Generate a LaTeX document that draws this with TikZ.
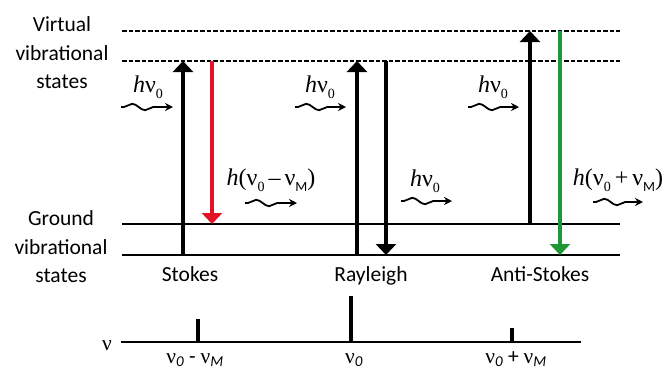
\documentclass[tikz,border=0pt]{standalone}
\usepackage{fontspec}
\setmainfont{Carlito}
\newfontfamily\serifsym{Liberation Serif}
\usetikzlibrary{arrows.meta,decorations.pathmorphing}
\definecolor{stokesred}{RGB}{228,18,38}
\definecolor{antigreen}{RGB}{30,152,52}
\newcommand{\fnu}{{\serifsym ν}}
\newcommand{\fh}{{\serifsym\itshape h}}
% low-set subscript as used in the photon energy labels
\newcommand{\lowsub}[1]{\raisebox{-6pt}{\fontsize{14}{14}\selectfont #1}}
\begin{document}
\begin{tikzpicture}[x=1pt,y=-1pt,
  font=\fontsize{21.5}{28.5}\selectfont,
  level/.style={line width=2pt},
  virtual/.style={line width=1.8pt, dash pattern=on 4.5pt off 2pt},
  trans/.style={line width=4pt, -{Triangle[width=20pt,length=11pt]}},
  photon/.style={line width=1.8pt, decorate,
    decoration={snake, amplitude=3.2pt, segment length=26pt, pre length=3pt, post length=10pt},
    -{Stealth[length=8pt,width=8pt]}},
  lbl/.style={anchor=base, inner sep=0pt},
  plbl/.style={anchor=base, inner sep=0pt, font=\fontsize{24}{28}\selectfont},
  peak/.style={line width=4.5pt}]
\useasboundingbox (0,0) rectangle (665,368);

% energy levels
\coordinate (v2L) at (122,31);  \coordinate (v2R) at (620,31);
\coordinate (v1L) at (122,61);  \coordinate (v1R) at (620,61);
\coordinate (g1L) at (122,224); \coordinate (g1R) at (620,224);
\coordinate (g0L) at (122,255); \coordinate (g0R) at (620,255);
\draw[virtual] (v2L) -- (v2R);
\draw[virtual] (v1L) -- (v1R);
\draw[level] (g1L) -- (g1R);
\draw[level] (g0L) -- (g0R);

% side labels
\node[align=center, inner sep=0pt] (virt) at (62,53) {Virtual\\vibrational\\states};
\node[align=center, inner sep=0pt] (grnd) at (61,247) {Ground\\vibrational\\states};

% Stokes
\coordinate (s1) at (183,255); \coordinate (s2) at (183,61);
\coordinate (s3) at (212,61);  \coordinate (s4) at (212,224);
\draw[trans] (s1) -- (s2);
\draw[trans, stokesred, line width=3.2pt] (s3) -- (s4);
% Rayleigh
\coordinate (r1) at (357,255); \coordinate (r2) at (357,61);
\coordinate (r3) at (386,61);  \coordinate (r4) at (386,255);
\draw[trans] (r1) -- (r2);
\draw[trans] (r3) -- (r4);
% Anti-Stokes
\coordinate (a1) at (530,224); \coordinate (a2) at (530,31);
\coordinate (a3) at (560,31);  \coordinate (a4) at (560,255);
\draw[trans] (a1) -- (a2);
\draw[trans, antigreen, line width=3.2pt] (a3) -- (a4);

% process names
\node[lbl] (stokes) at (190,281) {Stokes};
\node[lbl] (rayl) at (371,281) {Rayleigh};
\node[lbl] (anti) at (540,281) {Anti-Stokes};

% incoming photons
\node[plbl] (in1) at (148,92) {\fh\fnu\lowsub{\serifsym 0}};
\node[plbl] (in2) at (320,92) {\fh\fnu\lowsub{\serifsym 0}};
\node[plbl] (in3) at (493,92) {\fh\fnu\lowsub{\serifsym 0}};
\coordinate (w1a) at (121,107); \coordinate (w1b) at (173,107);
\coordinate (w2a) at (295,107); \coordinate (w2b) at (346,107);
\coordinate (w3a) at (468,107); \coordinate (w3b) at (519,107);
\draw[photon] (w1a) -- (w1b);
\draw[photon] (w2a) -- (w2b);
\draw[photon] (w3a) -- (w3b);

% scattered photons
\node[plbl] (out1) at (271,185) {\fh{\serifsym(}\fnu\lowsub{\serifsym 0}\,{\serifsym –}\,\fnu\lowsub{M}{\serifsym )}};
\node[plbl] (out2) at (425,186) {\fh\fnu\lowsub{\serifsym 0}};
\node[plbl] (out3) at (618,185) {\fh{\serifsym(}\fnu\lowsub{\serifsym 0}\,{\serifsym +}\,\fnu\lowsub{M}{\serifsym )}};
\coordinate (o1a) at (245,203); \coordinate (o1b) at (297,203);
\coordinate (o2a) at (401,201); \coordinate (o2b) at (452,201);
\coordinate (o3a) at (593,202); \coordinate (o3b) at (643,202);
\draw[photon] (o1a) -- (o1b);
\draw[photon] (o2a) -- (o2b);
\draw[photon] (o3a) -- (o3b);

% spectrum
\coordinate (axL) at (121,342); \coordinate (axR) at (581,342);
\draw[level] (axL) -- (axR);
\node[lbl] (nu) at (107,350) {\fnu};
\coordinate (p1b) at (198,342); \coordinate (p1t) at (198,319);
\coordinate (p2b) at (351,342); \coordinate (p2t) at (351,296);
\coordinate (p3b) at (512,342); \coordinate (p3t) at (512,328);
\draw[peak] (p1b) -- (p1t);
\draw[peak] (p2b) -- (p2t);
\draw[peak] (p3b) -- (p3t);
\node[lbl] (f1) at (195,363) {\fnu\textsubscript{\textit{0}} - \fnu\textsubscript{\textit{M}}};
\node[lbl] (f2) at (354,363) {\fnu\textsubscript{\textit{0}}};
\node[lbl] (f3) at (516,363) {\fnu\textsubscript{\textit{0}} + \fnu\textsubscript{\textit{M}}};
\end{tikzpicture}
\end{document}
